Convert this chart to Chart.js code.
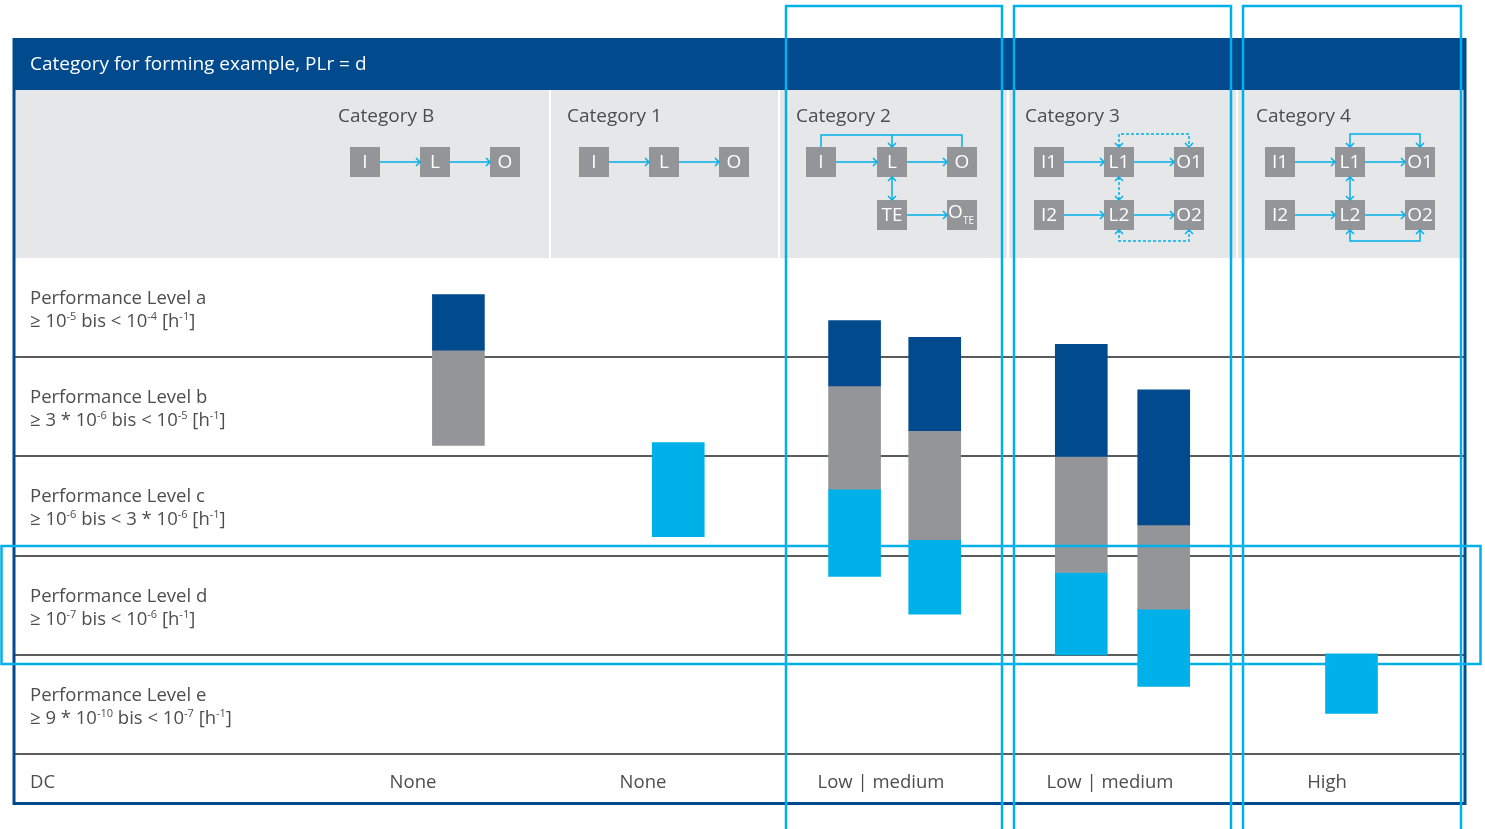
<!DOCTYPE html>
<html lang="en">
<head>
<meta charset="UTF-8">
<title>Category for forming example</title>
<style>
  body { margin: 0; background: #fff; }
  #wrap { width: 1485px; height: 829px; }
</style>
<script src="https://cdn.jsdelivr.net/npm/chart.js"></script>
</head>
<body>
<div id="wrap"><canvas id="chart" width="1485" height="829"></canvas></div>
<script>
const title = 'Category for forming example, PLr = d';
const categories = ['Category B', 'Category 1', 'Category 2', 'Category 3', 'Category 4'];
const dcLabels = ['None', 'None', 'Low | medium', 'Low | medium', 'High'];
const levelNames = ['Performance Level a', 'Performance Level b', 'Performance Level c',
                    'Performance Level d', 'Performance Level e'];
// '^' marks a superscript piece
const levelRanges = [
  ['\u2265 10', '^-5', ' bis < 10', '^-4', ' [h', '^-1', ']'],
  ['\u2265 3 * 10', '^-6', ' bis < 10', '^-5', ' [h', '^-1', ']'],
  ['\u2265 10', '^-6', ' bis < 3 * 10', '^-6', ' [h', '^-1', ']'],
  ['\u2265 10', '^-7', ' bis < 10', '^-6', ' [h', '^-1', ']'],
  ['\u2265 9 * 10', '^-10', ' bis < 10', '^-7', ' [h', '^-1', ']']
];

// one entry per bar; y in performance-level rows (0 = top of a, 5 = bottom of e)
const barCategory = [0, 1, 2, 2, 3, 3, 4];
const darkSeg = [[0.37, 0.93], null, [0.63, 1.29], [0.80, 1.74], [0.87, 2.00], [1.33, 2.69], null];
const graySeg = [[0.93, 1.89], null, [1.29, 2.33], [1.74, 2.84], [2.00, 3.17], [2.69, 3.54], null];
const cyanSeg = [null, [1.86, 2.81], [2.33, 3.21], [2.84, 3.59], [3.17, 4.00], [3.54, 4.32], [3.99, 4.59]];

// where each bar sits inside its category column
const barOffset = [0.60, 0.56, 0.33, 0.68, 0.32, 0.68, 0.50];

const DARK = '#004a8d', GRAY = '#939598', CYAN = '#00b0e9', TEXT = '#4d4d4f', HEAD = '#e6e7e8';
const FONT = '"Open Sans", "Noto Sans", sans-serif';

function points(seg) {
  const out = [];
  seg.forEach((s, i) => { if (s) out.push({ x: barCategory[i] + barOffset[i], y: s }); });
  return out;
}

function richText(ctx, parts, x, y, size) {
  let cx = x;
  parts.forEach(p => {
    const sup = p[0] === '^';
    const t = sup ? p.slice(1) : p;
    ctx.font = '500 ' + (sup ? Math.round(size * 0.6) : size) + 'px ' + FONT;
    ctx.fillText(t, cx, sup ? y - size * 0.38 : y);
    cx += ctx.measureText(t).width;
  });
}

function head(ctx, x, y, dir) {
  const s = 4;
  ctx.beginPath();
  if (dir === 'r') { ctx.moveTo(x - s, y - s); ctx.lineTo(x, y); ctx.lineTo(x - s, y + s); }
  if (dir === 'd') { ctx.moveTo(x - s, y - s); ctx.lineTo(x, y); ctx.lineTo(x + s, y - s); }
  if (dir === 'u') { ctx.moveTo(x - s, y + s); ctx.lineTo(x, y); ctx.lineTo(x + s, y + s); }
  ctx.setLineDash([]);
  ctx.stroke();
}

function line(ctx, pts, dashed) {
  ctx.setLineDash(dashed ? [3, 2] : []);
  ctx.beginPath();
  ctx.moveTo(pts[0][0], pts[0][1]);
  for (let i = 1; i < pts.length; i++) ctx.lineTo(pts[i][0], pts[i][1]);
  ctx.stroke();
  ctx.setLineDash([]);
}

function box(ctx, x, y, label, sub) {
  ctx.fillStyle = GRAY;
  ctx.fillRect(x, y, 30, 30);
  ctx.fillStyle = '#fff';
  ctx.textBaseline = 'middle';
  ctx.font = '500 19px ' + FONT;
  if (sub) {
    ctx.textAlign = 'left';
    ctx.fillText(label, x + 1, y + 13);
    ctx.font = '10px ' + FONT;
    ctx.fillText(sub, x + 16, y + 21);
  } else {
    ctx.textAlign = 'center';
    ctx.fillText(label, x + 15, y + 16);
  }
}

function chain(ctx, xs, y, labels) {
  xs.forEach((x, i) => box(ctx, x, y, labels[i]));
  for (let i = 0; i < xs.length - 1; i++) {
    line(ctx, [[xs[i] + 30, y + 15], [xs[i + 1], y + 15]]);
    head(ctx, xs[i + 1], y + 15, 'r');
  }
}

function diagrams(ctx) {
  ctx.strokeStyle = CYAN;
  ctx.lineWidth = 1.5;
  const r1 = 147, r2 = 200;
  chain(ctx, [350, 420, 490], r1, ['I', 'L', 'O']);
  chain(ctx, [579, 649, 719], r1, ['I', 'L', 'O']);

  // category 2
  chain(ctx, [806, 877, 947], r1, ['I', 'L', 'O']);
  box(ctx, 877, r2, 'TE');
  box(ctx, 947, r2, 'O', 'TE');
  ctx.strokeStyle = CYAN;
  line(ctx, [[907, r2 + 15], [947, r2 + 15]]); head(ctx, 947, r2 + 15, 'r');
  line(ctx, [[821, r1], [821, 135], [962, 135], [962, r1]]);
  line(ctx, [[892, 135], [892, r1]]); head(ctx, 892, r1, 'd');
  line(ctx, [[892, r1 + 30], [892, r2]]); head(ctx, 892, r1 + 30, 'u'); head(ctx, 892, r2, 'd');

  // categories 3 and 4
  [[1034, true], [1265, false]].forEach(([x0, dashed]) => {
    const xs = [x0, x0 + 70, x0 + 140];
    chain(ctx, xs, r1, ['I1', 'L1', 'O1']);
    chain(ctx, xs, r2, ['I2', 'L2', 'O2']);
    ctx.strokeStyle = CYAN;
    const a = xs[1] + 15, b = xs[2] + 15;
    line(ctx, [[a, r1], [a, 134], [b, 134], [b, r1]], dashed);
    head(ctx, a, r1, 'd'); head(ctx, b, r1, 'd');
    line(ctx, [[a, r2 + 30], [a, 241], [b, 241], [b, r2 + 30]], dashed);
    head(ctx, a, r2 + 30, 'u'); head(ctx, b, r2 + 30, 'u');
    line(ctx, [[a, r1 + 30], [a, r2]], dashed);
    head(ctx, a, r1 + 30, 'u'); head(ctx, a, r2, 'd');
  });
}

const frame = {
  id: 'frame',
  beforeDraw(chart) {
    const ctx = chart.ctx;
    ctx.save();
    ctx.fillStyle = '#fff';
    ctx.fillRect(0, 0, chart.width, chart.height);
    // title band
    ctx.fillStyle = DARK;
    ctx.fillRect(13, 38, 1453, 52);
    ctx.fillStyle = '#fff';
    ctx.font = '500 19px ' + FONT;
    ctx.textBaseline = 'alphabetic';
    ctx.textAlign = 'left';
    ctx.fillText(title, 30, 70);
    // grey header
    ctx.fillStyle = HEAD;
    ctx.fillRect(15, 90, 1449, 168);
    ctx.fillStyle = '#fff';
    [550, 779, 1008, 1237].forEach(x => ctx.fillRect(x - 1, 90, 2, 168));
    ctx.fillStyle = TEXT;
    ctx.font = '500 19px ' + FONT;
    const colX = [338, 567, 796, 1025, 1256];
    categories.forEach((c, i) => ctx.fillText(c, colX[i], 122));
    diagrams(ctx);
    // level labels
    const y = chart.scales.y;
    ctx.fillStyle = TEXT;
    ctx.textAlign = 'left';
    ctx.textBaseline = 'alphabetic';
    levelNames.forEach((n, i) => {
      const top = y.getPixelForValue(i);
      ctx.font = '500 18.5px ' + FONT;
      ctx.fillText(n, 30, top + 46);
      richText(ctx, levelRanges[i], 30, top + 69, 18.5);
    });
    // DC row
    ctx.font = '500 18.5px ' + FONT;
    ctx.fillText('DC', 30, 788);
    ctx.textAlign = 'center';
    const dcX = [413, 643, 881, 1110, 1327];
    dcLabels.forEach((d, i) => ctx.fillText(d, dcX[i], 788));
    ctx.restore();
  },
  afterDraw(chart) {
    const ctx = chart.ctx;
    ctx.save();
    ctx.strokeStyle = DARK;
    ctx.lineWidth = 3;
    ctx.beginPath();
    ctx.moveTo(14, 38); ctx.lineTo(14, 803.5); ctx.lineTo(1465, 803.5); ctx.lineTo(1465, 38);
    ctx.stroke();
    ctx.strokeStyle = CYAN;
    ctx.lineWidth = 2.5;
    ctx.strokeRect(786, 6, 216, 840);
    ctx.strokeRect(1014, 6, 217, 840);
    ctx.strokeRect(1243, 6, 218, 840);
    ctx.strokeRect(1.5, 546, 1479, 118);
    ctx.restore();
  }
};

const barStyle = { grouped: false, barThickness: 52, borderWidth: 0, borderSkipped: false };

new Chart(document.getElementById('chart'), {
  type: 'bar',
  data: {
    datasets: [
      Object.assign({ label: 'dark', data: points(darkSeg), backgroundColor: DARK }, barStyle),
      Object.assign({ label: 'gray', data: points(graySeg), backgroundColor: GRAY }, barStyle),
      Object.assign({ label: 'cyan', data: points(cyanSeg), backgroundColor: CYAN }, barStyle)
    ]
  },
  options: {
    responsive: false,
    animation: false,
    devicePixelRatio: 1,
    layout: { padding: { left: 13, right: 19, top: 258, bottom: 75 } },
    plugins: { legend: { display: false }, tooltip: { enabled: false } },
    scales: {
      x: { type: 'linear', min: -1.345, max: 5, offset: false, display: false },
      y: {
        type: 'linear', reverse: true, min: 0, max: 5, z: 1,
        ticks: { display: false, stepSize: 1 },
        border: { display: false },
        grid: {
          drawTicks: false, lineWidth: 2,
          color: c => c.tick.value === 0 ? 'rgba(0,0,0,0)' : '#5a5b5d'
        },
        afterFit: s => { s.width = 0; }
      }
    }
  },
  plugins: [frame]
});
</script>
</body>
</html>
